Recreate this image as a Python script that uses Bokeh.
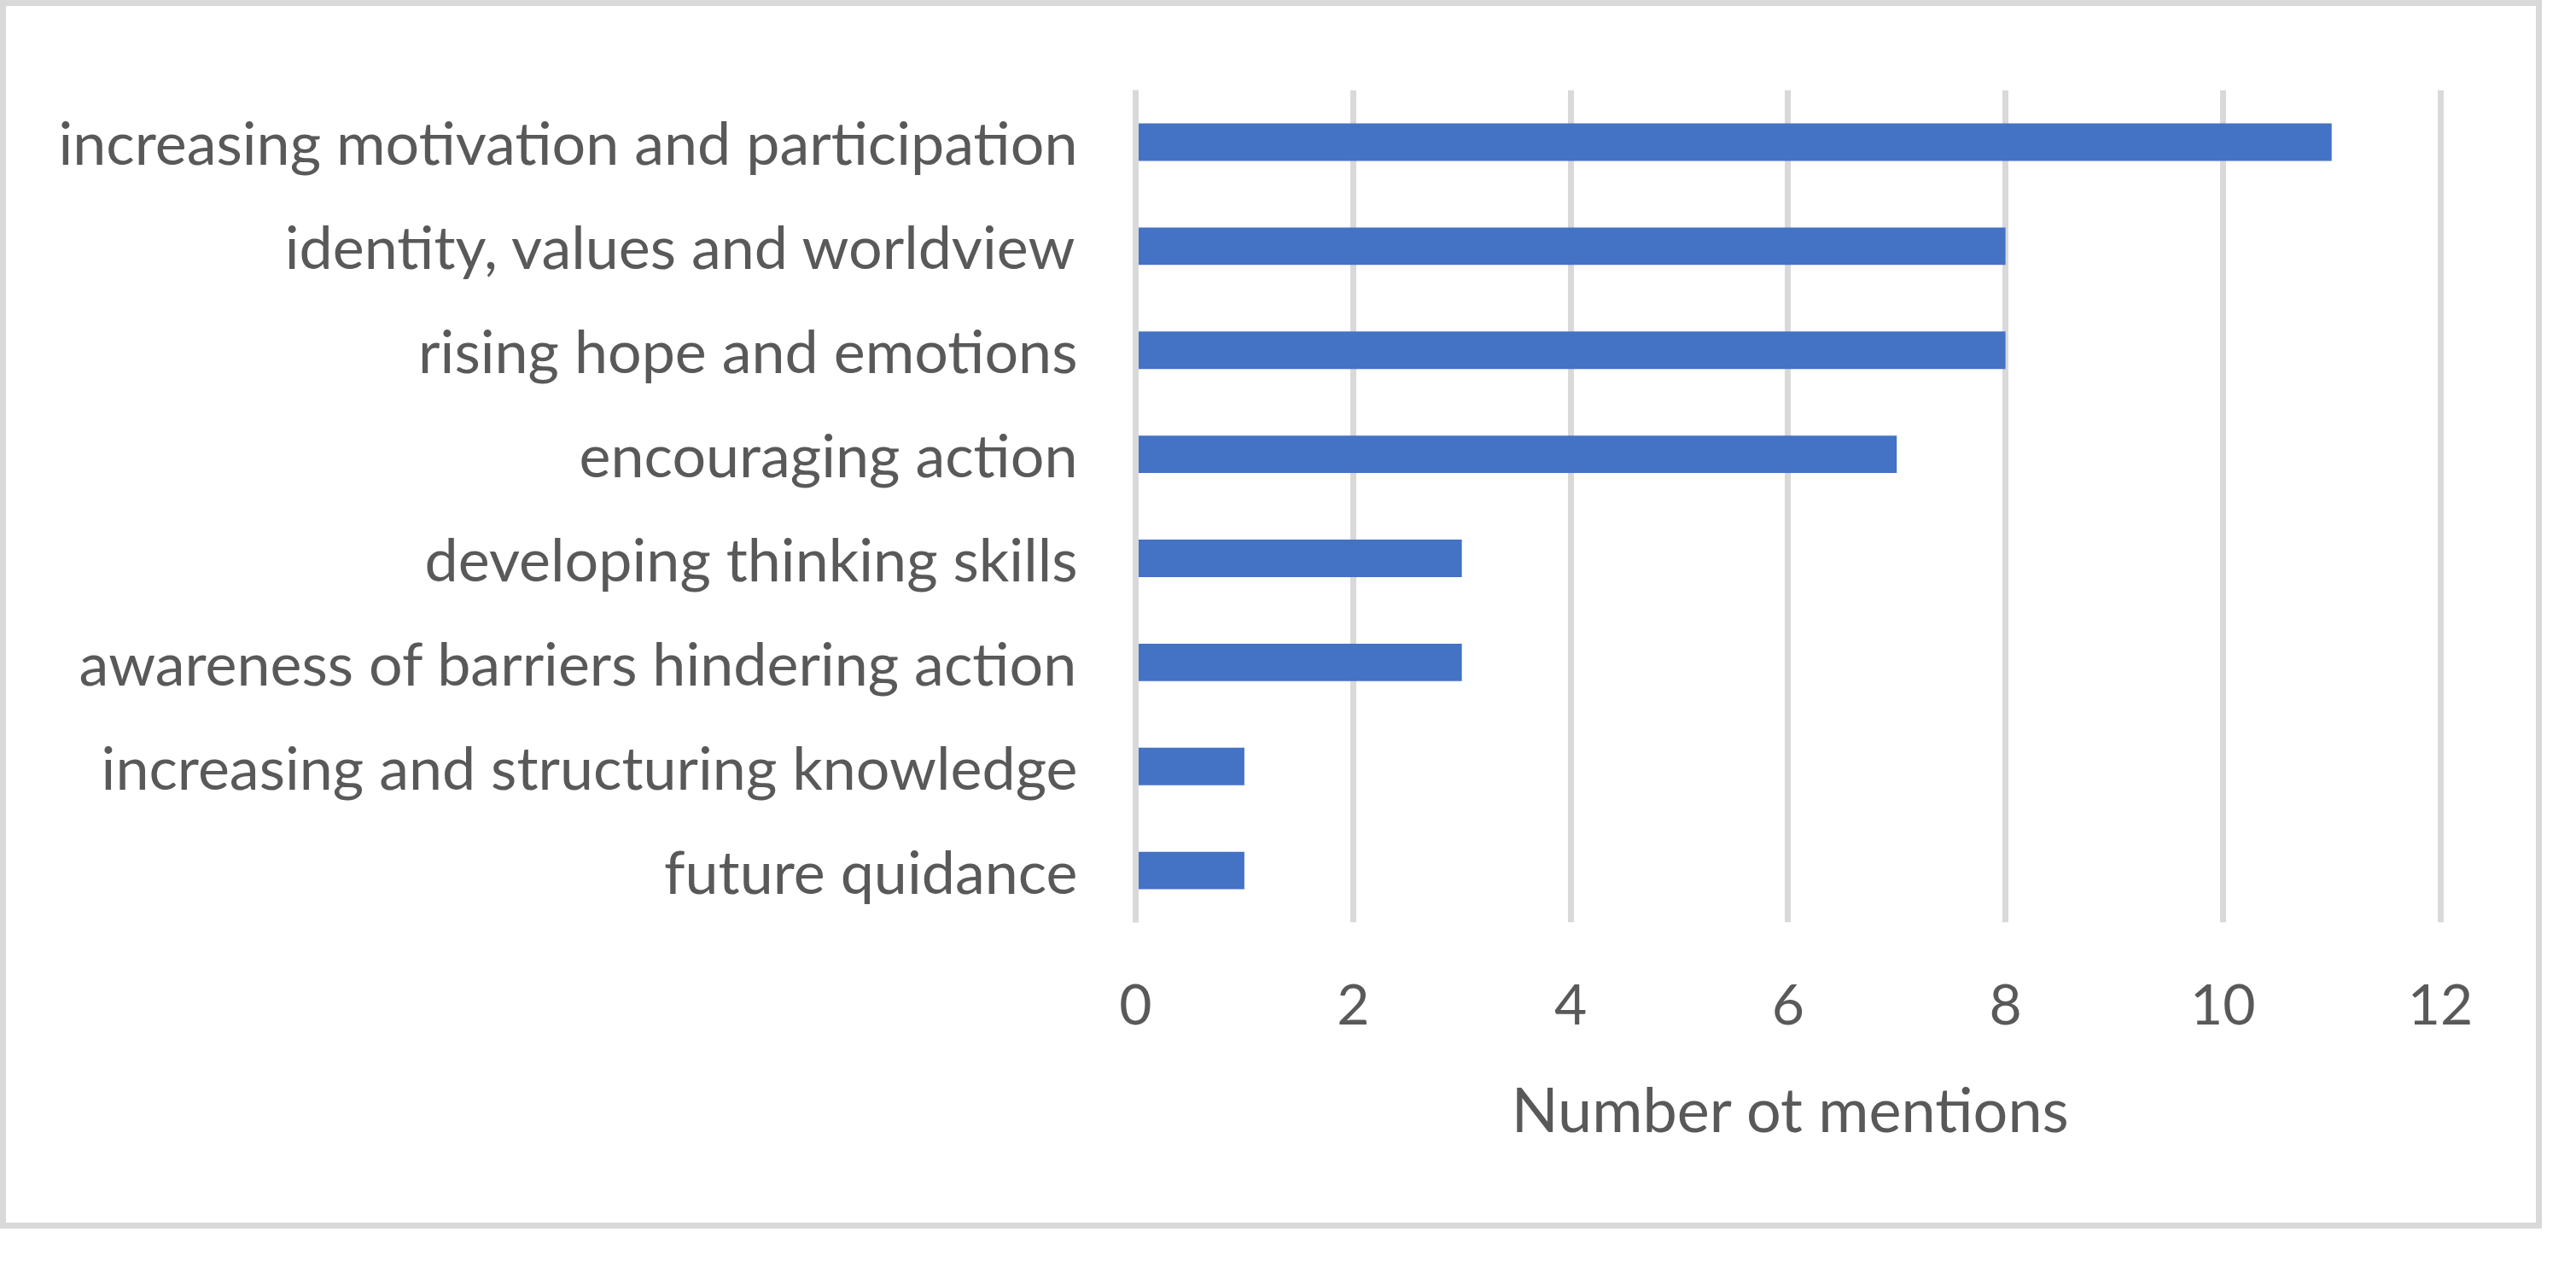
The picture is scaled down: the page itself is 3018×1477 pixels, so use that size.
from bokeh.plotting import figure
from bokeh.models import FactorRange, Range1d, FixedTicker, ColumnDataSource
from bokeh.embed import file_html
from bokeh.resources import INLINE

categories = [
    "increasing motivation and participation",
    "identity, values and worldview",
    "rising hope and emotions",
    "encouraging action",
    "developing thinking skills",
    "awareness of barriers hindering action",
    "increasing and structuring knowledge",
    "future quidance",
]
mentions = [11, 8, 8, 7, 3, 3, 1, 1]
x_ticks = [0, 2, 4, 6, 8, 10, 12]
x_title = "Number ot mentions"

FONT = "Lato"
TEXT = "#595959"
GRID = "#d9d9d9"
BAR = "#4472C4"

src = ColumnDataSource(dict(cat=categories, val=mentions))

p = figure(
    y_range=FactorRange(factors=list(reversed(categories)), range_padding=0),
    x_range=Range1d(0, 12.05),
    width=2978, height=1439,
    output_backend="svg", toolbar_location=None,
    min_border_left=1323, min_border_right=120,
    min_border_top=98, min_border_bottom=366,
)
p.styles = {"border": "7px solid #d9d9d9"}

p.hbar(y="cat", right="val", left=0, height=0.36, source=src,
       fill_color=BAR, line_color=None)

p.outline_line_color = None
p.background_fill_color = "white"
p.border_fill_color = "white"

# x axis
p.xaxis.ticker = FixedTicker(ticks=x_ticks)
p.xaxis.axis_line_color = None
p.xaxis.major_tick_line_color = None
p.xaxis.minor_tick_line_color = None
p.xaxis.major_label_text_font = FONT
p.xaxis.major_label_text_font_size = "66px"
p.xaxis.major_label_text_color = TEXT
p.xaxis.major_label_standoff = 66
p.xaxis.axis_label = x_title
p.xaxis.axis_label_text_font = FONT
p.xaxis.axis_label_text_font_size = "72px"
p.xaxis.axis_label_text_font_style = "normal"
p.xaxis.axis_label_text_color = TEXT
p.xaxis.axis_label_standoff = 52

# y axis
p.yaxis.axis_line_color = GRID
p.yaxis.axis_line_width = 7
p.yaxis.major_tick_line_color = None
p.yaxis.minor_tick_line_color = None
p.yaxis.major_label_text_font = FONT
p.yaxis.major_label_text_font_size = "70px"
p.yaxis.major_label_text_color = TEXT
p.yaxis.major_label_standoff = 62

p.xgrid.grid_line_color = GRID
p.xgrid.grid_line_width = 7
p.ygrid.grid_line_color = None

open("out.html", "w").write(file_html(p, INLINE))
